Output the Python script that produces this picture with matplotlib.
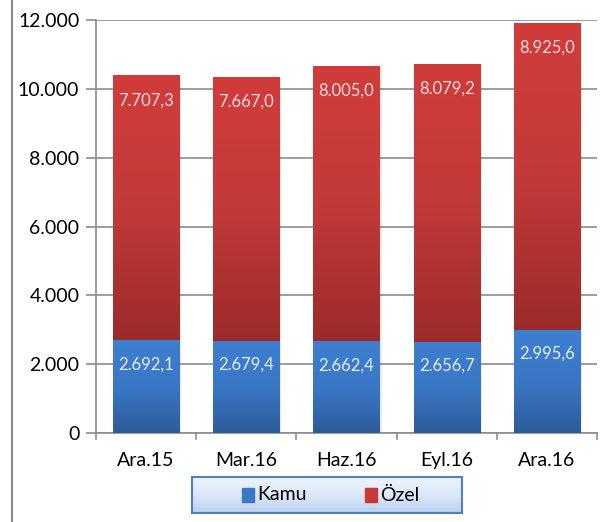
import numpy as np
import matplotlib
matplotlib.use("Agg")
import matplotlib.pyplot as plt
from matplotlib.colors import LinearSegmentedColormap
from matplotlib.lines import Line2D

plt.rcParams['font.family'] = ['Lato', 'DejaVu Sans']

categories = ["Ara.15", "Mar.16", "Haz.16", "Eyl.16", "Ara.16"]
kamu = [2692.1, 2679.4, 2662.4, 2656.7, 2995.6]
ozel = [7707.3, 7667.0, 8005.0, 8079.2, 8925.0]
yticks = [0, 2000, 4000, 6000, 8000, 10000, 12000]
ytick_labels = ["0", "2.000", "4.000", "6.000", "8.000", "10.000", "12.000"]


def tr_fmt(v):
    s = f"{v:,.1f}"
    return s.replace(",", "X").replace(".", ",").replace("X", ".")


fig = plt.figure(figsize=(6.04, 5.22), dpi=100)
ax = fig.add_axes([96 / 604, 1 - 433 / 522, (597 - 96) / 604, (433 - 20) / 522])

x = np.arange(len(categories))
width = 0.66

blue_cmap = LinearSegmentedColormap.from_list("b", ["#2D5B98", "#3A78C6", "#3E7FD0"])
red_cmap = LinearSegmentedColormap.from_list("r", ["#9B2B2A", "#C23A38", "#D13C3B"])

bars_k = ax.bar(x, kamu, width, color="#3A78C6", zorder=3)
bars_o = ax.bar(x, ozel, width, bottom=kamu, color="#C83A38", zorder=3)

grad = np.linspace(0, 1, 256).reshape(-1, 1)
for bars, cmap in ((bars_k, blue_cmap), (bars_o, red_cmap)):
    for p in bars:
        x0, y0 = p.get_x(), p.get_y()
        w, h = p.get_width(), p.get_height()
        # soft shadow to the right
        ax.add_patch(plt.Rectangle((x0 + w, y0), 0.02, h, color="#000000", alpha=0.08,
                                   zorder=2, linewidth=0))
        im = ax.imshow(grad, cmap=cmap, aspect="auto", origin="lower",
                       extent=(x0, x0 + w, y0, y0 + h), zorder=4)
        im.set_clip_path(p)

for i in range(len(categories)):
    ax.text(x[i], kamu[i] - 700, tr_fmt(kamu[i]), ha="center", va="center",
            color="#E6EEF8", fontsize=12, zorder=6)
    ax.text(x[i], kamu[i] + ozel[i] - 730, tr_fmt(ozel[i]), ha="center", va="center",
            color="#F6DCDC", fontsize=12, zorder=6)

ax.set_xlim(-0.5, len(categories) - 0.5)
ax.set_ylim(0, 12000)
ax.set_yticks(yticks)
ax.set_yticklabels(ytick_labels, fontsize=14)
ax.set_xticks(x)
ax.set_xticklabels(categories, fontsize=14)
ax.yaxis.grid(True, color="#8C8C8C", linewidth=1.2, zorder=0)
ax.set_axisbelow(True)
for s in ("top", "right"):
    ax.spines[s].set_visible(False)
for s in ("left", "bottom"):
    ax.spines[s].set_color("#8C8C8C")
    ax.spines[s].set_linewidth(1.2)
ax.tick_params(axis="y", length=7, color="#8C8C8C", width=1.2, pad=5, direction="out")
ax.tick_params(axis="x", length=0, pad=14)
for b in np.arange(-0.5, len(categories), 1.0):
    ax.plot([b, b], [0, -180], color="#8C8C8C", lw=1.2, clip_on=False, zorder=1)

# legend box with gradient fill
lx0, ly0, lw, lh = 192 / 604, 1 - 513 / 522, (462 - 192) / 604, 36 / 522
lax = fig.add_axes([lx0, ly0, lw, lh])
lax.set_xlim(0, 1)
lax.set_ylim(0, 1)
lax.axis("off")
lgrad = np.linspace(0, 1, 256).reshape(-1, 1)
lcmap = LinearSegmentedColormap.from_list("l", ["#B9D0F0", "#DCE8F8", "#EEF4FC"])
lax.imshow(lgrad, cmap=lcmap, aspect="auto", origin="lower", extent=(0, 1, 0, 1))
lax.add_patch(plt.Rectangle((0, 0), 1, 1, fill=False, edgecolor="#4F81BD", lw=1.5,
                            transform=lax.transAxes, clip_on=False))
lax.add_patch(plt.Rectangle((0.185, 0.3), 0.045, 0.4, color="#3A78C6",
                            transform=lax.transAxes))
lax.text(0.24, 0.5, "Kamu", va="center", ha="left", fontsize=14, transform=lax.transAxes)
lax.add_patch(plt.Rectangle((0.64, 0.3), 0.045, 0.4, color="#C83A38",
                            transform=lax.transAxes))
lax.text(0.695, 0.5, "Özel", va="center", ha="left", fontsize=14, transform=lax.transAxes)

# left border line of the chart frame
fig.add_artist(Line2D([12 / 604, 12 / 604], [0, 1], color="#8C8C8C", lw=1.5,
                      transform=fig.transFigure))

fig.savefig("out.png", dpi=100)
